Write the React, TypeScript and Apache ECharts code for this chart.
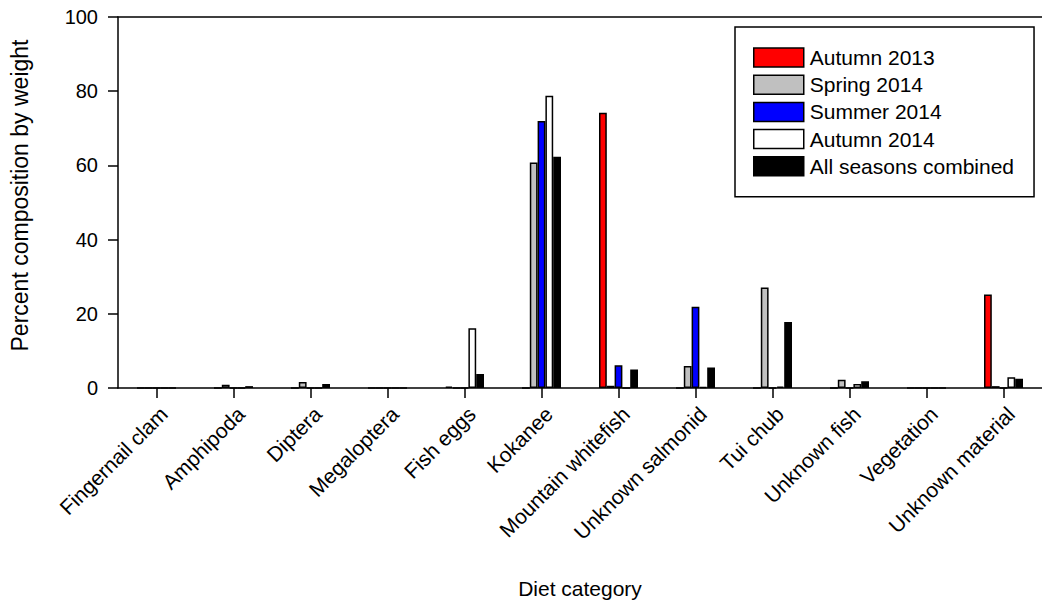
import React, { useEffect, useRef } from "react";
import * as echarts from "echarts";

const categories = [
  "Fingernail clam",
  "Amphipoda",
  "Diptera",
  "Megaloptera",
  "Fish eggs",
  "Kokanee",
  "Mountain whitefish",
  "Unknown salmonid",
  "Tui chub",
  "Unknown fish",
  "Vegetation",
  "Unknown material",
];

const autumn2013 = [0, 0, 0, 0, 0.4, 0, 74.2, 0, 0, 0, 0, 25.2];
const spring2014 = [0, 0.9, 1.6, 0, 0, 60.8, 0.6, 5.9, 27.1, 2.2, 0, 0.5];
const summer2014 = [0, 0, 0, 0, 0, 72.0, 6.1, 21.9, 0, 0, 0, 0];
const autumn2014 = [0, 0, 0, 0, 16.1, 78.8, 0, 0.3, 0.4, 1.1, 0, 2.9];
const allSeasons = [0, 0.5, 1.1, 0, 3.8, 62.3, 5.0, 5.5, 17.8, 1.8, 0, 2.5];

const yTicks = { min: 0, max: 100, interval: 20 };

const FONT = '"Liberation Sans", Arial, sans-serif';

export default function App() {
  const ref = useRef<HTMLDivElement>(null);

  useEffect(() => {
    if (!ref.current) return;
    const chart = echarts.init(ref.current, undefined, { renderer: "svg" });
    const seriesDefs = [
      { name: "Autumn 2013", data: autumn2013, color: "#ff0000" },
      { name: "Spring 2014", data: spring2014, color: "#c0c0c0" },
      { name: "Summer 2014", data: summer2014, color: "#0000ff" },
      { name: "Autumn 2014", data: autumn2014, color: "#ffffff" },
      { name: "All seasons combined", data: allSeasons, color: "#000000" },
    ];
    chart.setOption({
      animation: false,
      backgroundColor: "#ffffff",
      textStyle: { fontFamily: FONT, color: "#000" },
      grid: { left: 110, top: 17, width: 940, height: 376, containLabel: false },
      legend: {
        orient: "vertical",
        left: 735,
        top: 27,
        padding: [20, 20, 20, 18],
        borderColor: "#000",
        borderWidth: 1.5,
        backgroundColor: "#fff",
        itemWidth: 50,
        itemHeight: 19,
        itemGap: 6.2,
        icon: "rect",
        itemStyle: { borderColor: "#000", borderWidth: 1.5 },
        textStyle: { fontSize: 21, fontFamily: FONT, color: "#000", padding: [0, 0, 0, 1] },
        data: seriesDefs.map((s) => s.name),
      },
      xAxis: [
        {
          type: "category",
          data: categories,
          position: "bottom",
          name: "Diet category",
          nameLocation: "middle",
          nameGap: 190,
          nameTextStyle: { fontSize: 21, fontFamily: FONT, color: "#000" },
          axisLine: { show: true, lineStyle: { color: "#000", width: 1.5 } },
          axisTick: { show: true, alignWithLabel: true, length: 10, lineStyle: { color: "#000", width: 1.5 } },
          axisLabel: {
            rotate: 45,
            fontSize: 21,
            fontFamily: FONT,
            color: "#000",
            margin: 15,
            interval: 0,
            verticalAlign: "top",
          },
        },
        {
          type: "category",
          data: categories,
          position: "top",
          axisLine: { show: true, lineStyle: { color: "#000", width: 1.5 } },
          axisTick: { show: false },
          axisLabel: { show: false },
        },
      ],
      yAxis: {
        type: "value",
        min: yTicks.min,
        max: yTicks.max,
        interval: yTicks.interval,
        name: "Percent composition by weight",
        nameLocation: "middle",
        nameGap: 87,
        nameTextStyle: { fontSize: 23, fontFamily: FONT, color: "#000", padding: [0, 0, 0, 14] },
        axisLine: { show: true, lineStyle: { color: "#000", width: 1.5 } },
        axisTick: { show: true, length: 10, lineStyle: { color: "#000", width: 1.5 } },
        axisLabel: { fontSize: 20, fontFamily: FONT, color: "#000", margin: 20 },
        splitLine: { show: false },
      },
      series: seriesDefs.map((s) => ({
        name: s.name,
        type: "bar",
        xAxisIndex: 0,
        data: s.data,
        barWidth: 7.8,
        barGap: "0%",
        itemStyle: { color: s.color, borderColor: "#000", borderWidth: 1.5 },
      })),
    });
    return () => chart.dispose();
  }, []);

  return (
    <div
      ref={ref}
      style={{ position: "fixed", left: 0, top: 0, width: 1042, height: 604, background: "#fff" }}
    />
  );
}
